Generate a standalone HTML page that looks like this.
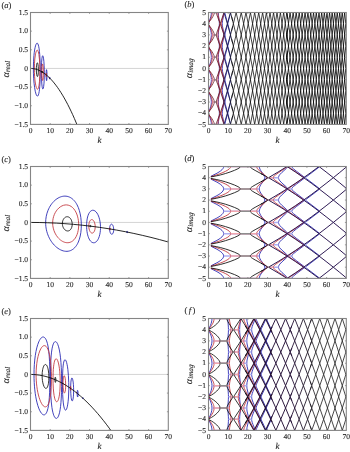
<!DOCTYPE html>
<html><head><meta charset="utf-8"><style>
html,body{margin:0;padding:0;background:#fff}
body{width:350px;height:452px;overflow:hidden}
svg{display:block;will-change:transform}
text{text-rendering:geometricPrecision;stroke:#333;stroke-width:0.12px}
text{font-family:"Liberation Serif",serif}
</style></head><body>
<svg width="350" height="452" viewBox="0 0 350 452">
<rect width="350" height="452" fill="#fff"/>
<clipPath id="cabr"><rect x="30.5" y="12.5" width="137.80" height="111.90"/></clipPath>
<g clip-path="url(#cabr)" fill="none">
<line x1="30.5" y1="68.45" x2="168.3" y2="68.45" stroke="#cfcfcf" stroke-width="0.9"/>
<path d="M33.37 68.66 L33.52 61.77 33.95 55.46 34.26 52.56 34.63 49.97 35.05 47.72 35.51 45.86 35.99 44.47 36.48 43.56 36.73 43.30 36.97 43.17 37.21 43.17 37.45 43.29 37.91 43.93 38.34 45.06 38.75 46.69 39.11 48.76 39.45 51.44 39.74 54.62 40.14 62.10 40.29 70.94 40.15 79.49 39.77 86.36 39.50 89.20 39.18 91.58 38.81 93.49 38.40 94.88 37.96 95.77 37.72 96.01 37.48 96.11 37.11 96.02 36.74 95.63 36.36 94.94 35.98 93.98 35.26 91.27 34.61 87.65 34.08 83.43 33.69 78.77 33.45 73.78 33.37 68.66Z M41.38 71.53 L41.44 66.63 41.61 62.28 41.88 58.90 42.23 56.70 42.43 56.06 42.65 55.78 42.75 55.77 42.87 55.85 43.08 56.28 43.30 57.07 43.50 58.18 43.86 61.28 44.12 65.25 44.27 69.83 44.31 73.41 44.21 79.11 44.00 83.13 43.70 86.27 43.32 88.28 43.11 88.80 42.90 89.00 42.74 88.93 42.60 88.70 42.31 87.73 42.05 86.16 41.82 84.04 41.49 78.34 41.38 71.53Z M46.11 74.78 L46.18 71.73 46.38 69.90 46.51 69.60 46.64 69.76 46.87 71.38 47.01 74.30 46.99 77.37 46.84 79.78 46.72 80.47 46.59 80.71 46.50 80.60 46.41 80.27 46.25 79.00 46.15 77.05 46.11 74.78Z M49.60 77.94 L49.66 77.01 49.71 76.97 49.75 77.26 49.78 78.52 49.70 79.11 49.60 77.94Z" stroke="#2020b0" stroke-width="0.85"/>
<path d="M34.34 68.83 L34.47 63.71 34.81 58.99 35.36 54.93 35.69 53.27 36.06 51.93 36.43 50.96 36.81 50.36 37.01 50.20 37.20 50.13 37.39 50.16 37.58 50.29 37.94 50.82 38.29 51.74 38.61 53.00 38.91 54.61 39.42 59.03 39.75 64.58 39.87 70.73 39.75 76.64 39.44 81.78 39.21 83.93 38.95 85.74 38.64 87.21 38.31 88.28 37.95 88.95 37.75 89.14 37.56 89.22 37.27 89.15 36.98 88.87 36.69 88.37 36.40 87.67 35.83 85.69 35.33 83.01 34.91 79.88 34.60 76.39 34.41 72.67 34.34 68.83Z M41.77 71.75 L41.90 67.30 42.06 65.59 42.25 64.46 42.47 63.97 42.59 63.98 42.70 64.16 42.92 65.04 43.11 66.52 43.35 70.84 43.33 75.49 43.22 77.53 43.05 79.13 42.85 80.15 42.74 80.42 42.63 80.52 42.46 80.36 42.30 79.86 42.03 77.96 41.84 75.19 41.77 71.75Z M46.07 74.75 L46.16 73.27 46.20 73.17 46.25 73.22 46.33 73.72 46.37 75.58 46.31 76.33 46.23 76.58 46.12 76.06 46.07 74.75Z M49.48 77.81 L49.51 77.67 49.50 78.04 49.48 77.81Z" stroke="#c03038" stroke-width="0.85"/>
<path d="M36.33 69.33 L36.38 67.44 36.50 65.74 36.70 64.32 36.95 63.30 37.23 62.83 37.38 62.80 37.52 62.91 37.79 63.53 38.02 64.66 38.21 66.26 38.33 68.21 38.36 70.06 38.32 72.22 38.19 73.98 38.00 75.34 37.75 76.23 37.61 76.47 37.46 76.57 37.25 76.45 37.05 76.04 36.67 74.42 36.42 72.05 36.33 69.33Z M42.07 71.93 L42.13 71.14 42.18 71.11 42.23 71.35 42.26 72.30 42.17 72.89 42.10 72.60 42.07 71.93Z" stroke="#000000" stroke-width="0.8"/>
<path d="M30.50 68.45 L32.27 68.53 33.85 68.74 35.42 69.08 37.19 69.61 38.77 70.23 40.54 71.07 42.31 72.08 44.08 73.24 45.85 74.58 47.43 75.90 49.20 77.54 50.78 79.13 52.55 81.08 54.12 82.95 55.89 85.21 57.47 87.35 59.04 89.62 60.82 92.33 62.59 95.21 64.16 97.90 65.93 101.08 67.71 104.42 69.48 107.93 71.05 111.19 72.63 114.57 74.40 118.53 77.75 126.46 81.09 134.97 84.44 144.06" stroke="#000" stroke-width="0.85"/>
</g>
<clipPath id="cabi"><rect x="208.5" y="12.5" width="137.80" height="111.90"/></clipPath>
<g clip-path="url(#cabi)" fill="none">
<path id="pabb0" d="M208.70 67.40 L210.11 63.67 210.78 61.53 211.23 59.33 211.37 57.26 M218.28 57.26 L218.43 59.99 219.22 65.87 219.39 68.45 M222.30 68.45 L222.37 66.93 222.59 65.26 223.91 58.97 224.11 57.26 M225.02 57.26 L225.10 58.33 225.39 59.76 227.44 67.55 227.61 68.45 M227.78 68.45 L227.99 67.40 230.57 57.65" stroke="#2020b0" stroke-width="0.85"/>
<use href="#pabb0" transform="translate(0 67.140)"/>
<use href="#pabb0" transform="matrix(1 0 0 -1 0 204.040)"/>
<use href="#pabb0" transform="translate(0 44.760)"/>
<use href="#pabb0" transform="matrix(1 0 0 -1 0 181.660)"/>
<use href="#pabb0" transform="translate(0 22.380)"/>
<use href="#pabb0" transform="matrix(1 0 0 -1 0 159.280)"/>
<use href="#pabb0" transform="matrix(1 0 0 -1 0 136.900)"/>
<use href="#pabb0" transform="translate(0 -22.380)"/>
<use href="#pabb0" transform="matrix(1 0 0 -1 0 114.520)"/>
<use href="#pabb0" transform="translate(0 -44.760)"/>
<use href="#pabb0" transform="matrix(1 0 0 -1 0 92.140)"/>
<path d="M211.37 124.40H218.28M211.37 102.02H218.28M211.37 79.64H218.28M211.37 57.26H218.28M211.37 34.88H218.28M211.37 12.50H218.28M219.39 113.21H222.30M219.39 90.83H222.30M219.39 68.45H222.30M219.39 46.07H222.30M219.39 23.69H222.30M224.11 124.40H225.02M224.11 102.02H225.02M224.11 79.64H225.02M224.11 57.26H225.02M224.11 34.88H225.02M224.11 12.50H225.02" stroke="#aeaef2" stroke-opacity="1" stroke-width="1.5"/>
<path id="pabr0" d="M208.70 67.45 L210.69 63.50 211.54 61.46 212.15 59.30 212.35 57.26 M217.86 57.26 L217.93 58.70 218.13 60.21 219.53 66.35 219.72 67.47 219.77 68.45 M221.37 68.45 L221.47 67.20 221.78 65.65 223.86 58.35 224.07 57.26" stroke="#c03038" stroke-width="0.85"/>
<use href="#pabr0" transform="translate(0 67.140)"/>
<use href="#pabr0" transform="matrix(1 0 0 -1 0 204.040)"/>
<use href="#pabr0" transform="translate(0 44.760)"/>
<use href="#pabr0" transform="matrix(1 0 0 -1 0 181.660)"/>
<use href="#pabr0" transform="translate(0 22.380)"/>
<use href="#pabr0" transform="matrix(1 0 0 -1 0 159.280)"/>
<use href="#pabr0" transform="matrix(1 0 0 -1 0 136.900)"/>
<use href="#pabr0" transform="translate(0 -22.380)"/>
<use href="#pabr0" transform="matrix(1 0 0 -1 0 114.520)"/>
<use href="#pabr0" transform="translate(0 -44.760)"/>
<use href="#pabr0" transform="matrix(1 0 0 -1 0 92.140)"/>
<path d="M212.35 124.40H217.86M212.35 102.02H217.86M212.35 79.64H217.86M212.35 57.26H217.86M212.35 34.88H217.86M212.35 12.50H217.86M219.77 113.21H221.37M219.77 90.83H221.37M219.77 68.45H221.37M219.77 46.07H221.37M219.77 23.69H221.37" stroke="#f2a6ac" stroke-opacity="1" stroke-width="1.5"/>
<linearGradient id="gab" gradientUnits="userSpaceOnUse" x1="208.5" y1="0" x2="346.3" y2="0"><stop offset="0.0000" stop-color="#6a1824"/><stop offset="0.0971" stop-color="#5a1424"/><stop offset="0.1171" stop-color="#1c1650"/><stop offset="0.1500" stop-color="#181838"/><stop offset="0.1786" stop-color="#000"/><stop offset="1.0000" stop-color="#000"/></linearGradient>
<path id="pabk0" d="M208.70 67.49 L209.27 66.50 211.63 63.40 212.90 61.32 213.54 60.06 214.00 58.97 214.25 58.08 214.34 57.26 M216.36 57.26 L216.48 58.30 216.84 59.59 219.65 67.06 220.07 68.45 M220.26 68.45 L220.41 67.83 223.97 57.26 M223.98 57.26 L227.37 68.45 230.47 57.27 232.72 65.85" stroke="url(#gab)" stroke-width="0.80"/>
<use href="#pabk0" transform="translate(0 67.140)"/>
<use href="#pabk0" transform="matrix(1 0 0 -1 0 204.040)"/>
<use href="#pabk0" transform="translate(0 44.760)"/>
<use href="#pabk0" transform="matrix(1 0 0 -1 0 181.660)"/>
<use href="#pabk0" transform="translate(0 22.380)"/>
<use href="#pabk0" transform="matrix(1 0 0 -1 0 159.280)"/>
<use href="#pabk0" transform="matrix(1 0 0 -1 0 136.900)"/>
<use href="#pabk0" transform="translate(0 -22.380)"/>
<use href="#pabk0" transform="matrix(1 0 0 -1 0 114.520)"/>
<use href="#pabk0" transform="translate(0 -44.760)"/>
<use href="#pabk0" transform="matrix(1 0 0 -1 0 92.140)"/>
<path id="pabk1" d="M231.53 61.24 L233.38 68.44 236.11 57.27 238.73 68.44 241.23 57.26 243.64 68.44 245.97 57.26 248.23 68.44 250.43 57.26 252.57 68.44 254.66 57.27 256.71 68.44 258.71 57.27 260.68 68.45 262.61 57.27 264.51 68.44 266.37 57.27 268.21 68.45 270.01 57.27 271.80 68.44 273.56 57.27 275.29 68.45 277.01 57.27 278.70 68.43 280.38 57.27 282.03 68.45 283.67 57.27 285.29 68.44 286.89 57.28 287.84 63.92" stroke="url(#gab)" stroke-width="0.74"/>
<use href="#pabk1" transform="translate(0 67.140)"/>
<use href="#pabk1" transform="matrix(1 0 0 -1 0 204.040)"/>
<use href="#pabk1" transform="translate(0 44.760)"/>
<use href="#pabk1" transform="matrix(1 0 0 -1 0 181.660)"/>
<use href="#pabk1" transform="translate(0 22.380)"/>
<use href="#pabk1" transform="matrix(1 0 0 -1 0 159.280)"/>
<use href="#pabk1" transform="matrix(1 0 0 -1 0 136.900)"/>
<use href="#pabk1" transform="translate(0 -22.380)"/>
<use href="#pabk1" transform="matrix(1 0 0 -1 0 114.520)"/>
<use href="#pabk1" transform="translate(0 -44.760)"/>
<use href="#pabk1" transform="matrix(1 0 0 -1 0 92.140)"/>
<path id="pabk2" d="M286.65 58.97 L286.89 57.28 288.48 68.45 290.05 57.27 291.61 68.44 293.15 57.27 294.68 68.44 296.20 57.26 297.71 68.44 299.20 57.26 300.68 68.44 302.14 57.27 303.61 68.44 305.05 57.27 306.49 68.44 307.92 57.27 309.34 68.43 310.74 57.28 312.14 68.44 313.53 57.26 314.91 68.43 316.28 57.27 317.64 68.44 319.00 57.27 320.34 68.43 321.69 57.27 323.02 68.44 324.34 57.28 325.66 68.44 326.97 57.28 328.27 68.43 329.57 57.27 330.86 68.45 332.15 57.27 333.42 68.43 334.70 57.27 335.96 68.44 337.22 57.28 338.47 68.44 339.72 57.27 340.96 68.44 342.20 57.28 343.43 68.43 344.65 57.29 345.87 68.42 346.30 64.54" stroke="url(#gab)" stroke-width="0.80"/>
<use href="#pabk2" transform="translate(0 67.140)"/>
<use href="#pabk2" transform="matrix(1 0 0 -1 0 204.040)"/>
<use href="#pabk2" transform="translate(0 44.760)"/>
<use href="#pabk2" transform="matrix(1 0 0 -1 0 181.660)"/>
<use href="#pabk2" transform="translate(0 22.380)"/>
<use href="#pabk2" transform="matrix(1 0 0 -1 0 159.280)"/>
<use href="#pabk2" transform="matrix(1 0 0 -1 0 136.900)"/>
<use href="#pabk2" transform="translate(0 -22.380)"/>
<use href="#pabk2" transform="matrix(1 0 0 -1 0 114.520)"/>
<use href="#pabk2" transform="translate(0 -44.760)"/>
<use href="#pabk2" transform="matrix(1 0 0 -1 0 92.140)"/>
<path d="M214.34 124.40H216.36M214.34 102.02H216.36M214.34 79.64H216.36M214.34 57.26H216.36M214.34 34.88H216.36M214.34 12.50H216.36" stroke="#8e8e8e" stroke-opacity="1" stroke-width="1.5"/>
</g>
<clipPath id="ccdr"><rect x="30.5" y="166.5" width="137.80" height="111.90"/></clipPath>
<g clip-path="url(#ccdr)" fill="none">
<line x1="30.5" y1="222.45" x2="168.3" y2="222.45" stroke="#cfcfcf" stroke-width="0.9"/>
<path d="M45.64 222.69 L45.80 219.46 46.26 216.28 47.03 213.19 48.07 210.24 48.71 208.80 49.41 207.42 50.17 206.09 50.99 204.83 51.87 203.62 52.81 202.48 53.79 201.43 54.81 200.45 55.87 199.56 56.96 198.77 58.07 198.07 59.21 197.48 60.35 196.99 61.51 196.60 62.66 196.33 63.80 196.17 64.94 196.12 66.06 196.18 67.17 196.35 68.25 196.63 69.31 197.02 70.34 197.51 71.34 198.12 72.30 198.82 73.20 199.61 74.06 200.48 74.89 201.45 75.67 202.51 76.41 203.66 77.10 204.88 78.33 207.57 79.37 210.57 80.20 213.84 80.80 217.34 81.18 221.03 81.32 225.11 81.21 228.79 80.84 232.53 80.23 236.01 79.39 239.18 78.34 242.03 77.73 243.32 77.07 244.53 76.36 245.65 75.60 246.67 74.70 247.70 73.74 248.61 72.74 249.39 71.67 250.04 70.57 250.57 69.42 250.95 68.23 251.21 67.01 251.33 65.76 251.31 64.49 251.15 63.20 250.86 61.90 250.43 60.60 249.87 59.31 249.18 58.04 248.37 56.79 247.44 55.57 246.39 54.39 245.24 53.27 244.00 52.19 242.65 51.19 241.24 50.26 239.75 49.40 238.20 48.63 236.60 47.94 234.95 47.34 233.27 46.82 231.56 46.40 229.81 46.07 228.05 45.84 226.27 45.69 224.47 45.64 222.69Z M86.60 225.69 L86.67 223.30 86.86 221.08 87.17 218.95 87.59 216.99 88.13 215.25 88.76 213.73 89.49 212.46 90.30 211.47 91.19 210.75 92.14 210.34 92.62 210.25 93.12 210.25 94.11 210.48 95.09 211.02 96.04 211.86 96.94 213.00 97.78 214.39 98.50 215.98 99.14 217.78 99.67 219.75 100.07 221.83 100.35 224.05 100.49 226.28 100.50 228.55 100.37 230.64 100.12 232.73 99.73 234.72 99.23 236.56 98.61 238.20 97.89 239.63 97.09 240.82 96.22 241.74 95.29 242.38 94.49 242.69 93.67 242.78 92.85 242.67 92.05 242.34 91.27 241.81 90.53 241.08 89.84 240.17 89.19 239.07 88.62 237.83 88.11 236.43 87.66 234.90 87.29 233.23 86.99 231.46 86.78 229.58 86.65 227.72 86.60 225.69Z M109.61 228.89 L109.69 227.52 109.92 226.26 110.28 225.26 110.74 224.55 111.00 224.33 111.28 224.21 111.57 224.18 111.85 224.25 112.40 224.68 112.90 225.46 113.30 226.53 113.57 227.80 113.69 229.17 113.66 230.57 113.47 231.86 113.14 232.94 112.69 233.74 112.17 234.19 111.70 234.28 111.24 234.11 110.80 233.68 110.40 233.03 110.07 232.18 109.82 231.17 109.66 230.05 109.61 228.89Z M126.74 231.99 L126.80 231.53 126.95 231.22 127.14 231.17 127.32 231.39 127.44 231.80 127.46 232.30 127.37 232.72 127.20 232.95 127.04 232.93 126.89 232.73 126.74 231.99Z" stroke="#2020b0" stroke-width="0.85"/>
<path d="M52.66 222.96 L52.76 220.78 53.08 218.64 53.60 216.56 54.32 214.56 55.23 212.66 56.32 210.90 57.56 209.32 58.93 207.94 60.40 206.80 61.94 205.91 63.52 205.30 65.12 204.96 66.71 204.92 68.27 205.16 69.77 205.68 71.21 206.48 72.54 207.53 73.77 208.82 74.90 210.36 75.90 212.10 76.77 214.04 77.48 216.14 78.04 218.40 78.43 220.73 78.65 223.16 78.68 225.61 78.53 228.00 78.20 230.34 77.70 232.55 77.04 234.59 76.22 236.45 75.26 238.10 74.62 238.98 73.93 239.78 73.19 240.48 72.43 241.10 71.62 241.61 70.78 242.03 69.92 242.35 69.02 242.58 68.10 242.69 67.16 242.71 66.21 242.63 65.25 242.44 64.29 242.15 63.33 241.76 62.37 241.28 61.43 240.70 60.49 240.02 59.58 239.25 58.70 238.39 57.87 237.47 56.34 235.41 55.04 233.13 54.01 230.71 53.27 228.18 52.81 225.60 52.66 222.96Z M88.78 225.95 L88.90 224.13 89.25 222.49 89.79 221.14 90.13 220.60 90.51 220.17 90.91 219.86 91.33 219.66 91.76 219.59 92.20 219.65 92.64 219.83 93.06 220.13 93.46 220.55 93.84 221.07 94.48 222.40 94.94 224.03 95.18 225.85 95.18 227.67 94.95 229.41 94.49 230.90 94.20 231.53 93.86 232.07 93.48 232.50 93.08 232.82 92.71 233.00 92.33 233.09 91.94 233.08 91.56 232.97 91.18 232.77 90.82 232.48 90.14 231.64 89.57 230.49 89.14 229.11 88.88 227.60 88.78 225.95Z M109.35 228.85 L109.42 228.28 109.63 227.88 109.76 227.80 109.90 227.80 110.16 228.06 110.34 228.57 110.37 229.19 110.26 229.73 110.02 230.05 109.78 230.05 109.56 229.81 109.40 229.37 109.35 228.85Z" stroke="#c03038" stroke-width="0.85"/>
<path d="M62.36 223.50 L62.51 221.83 62.95 220.28 63.27 219.57 63.65 218.92 64.08 218.34 64.56 217.84 65.08 217.42 65.64 217.10 66.22 216.88 66.81 216.76 67.41 216.74 68.00 216.83 68.58 217.02 69.13 217.31 69.66 217.70 70.15 218.17 70.60 218.73 71.01 219.36 71.66 220.83 72.07 222.47 72.22 224.24 72.08 225.93 71.67 227.54 71.37 228.26 71.02 228.90 70.50 229.61 69.92 230.17 69.27 230.60 68.58 230.87 67.85 230.98 67.11 230.93 66.37 230.71 65.64 230.35 64.95 229.83 64.32 229.17 63.74 228.40 63.26 227.53 62.87 226.58 62.59 225.58 62.43 224.58 62.36 223.50Z M89.92 226.09 L89.99 225.66 90.15 225.38 90.38 225.30 90.61 225.46 90.76 225.78 90.82 226.20 90.75 226.64 90.56 226.93 90.34 226.98 90.13 226.82 89.98 226.49 89.92 226.09Z" stroke="#000000" stroke-width="0.8"/>
<path d="M30.50 222.45 L39.16 222.53 47.63 222.75 56.29 223.13 64.95 223.67 73.61 224.36 82.08 225.19 90.74 226.19 99.40 227.34 108.06 228.65 116.53 230.07 125.19 231.68 133.85 233.45 142.31 235.33 150.98 237.40 159.64 239.63 168.30 242.01" stroke="#000" stroke-width="0.85"/>
</g>
<clipPath id="ccdi"><rect x="208.5" y="166.5" width="137.80" height="111.90"/></clipPath>
<g clip-path="url(#ccdi)" fill="none">
<path id="pcdb0" d="M210.86 221.08 L216.92 218.02 219.00 216.79 220.66 215.63 221.97 214.49 222.91 213.40 223.46 212.32 223.65 211.26 M259.32 211.26 L259.49 212.61 260.00 214.02 260.91 215.61 263.09 218.69 263.86 219.93 264.42 221.23 264.60 222.45 M278.51 222.45 L278.60 221.69 278.86 220.92 279.31 220.10 279.95 219.22 281.86 217.22 286.67 212.89 287.39 211.99 287.61 211.26 M291.70 211.26 L291.80 211.74 292.12 212.27 293.55 213.69 296.40 215.95 303.95 221.63 304.58 222.17 304.74 222.45 M305.47 222.45 L305.65 222.14 306.39 221.53 319.08 211.86" stroke="#2020b0" stroke-width="0.85"/>
<use href="#pcdb0" transform="translate(0 67.140)"/>
<use href="#pcdb0" transform="matrix(1 0 0 -1 0 512.040)"/>
<use href="#pcdb0" transform="translate(0 44.760)"/>
<use href="#pcdb0" transform="matrix(1 0 0 -1 0 489.660)"/>
<use href="#pcdb0" transform="translate(0 22.380)"/>
<use href="#pcdb0" transform="matrix(1 0 0 -1 0 467.280)"/>
<use href="#pcdb0" transform="matrix(1 0 0 -1 0 444.900)"/>
<use href="#pcdb0" transform="translate(0 -22.380)"/>
<use href="#pcdb0" transform="matrix(1 0 0 -1 0 422.520)"/>
<use href="#pcdb0" transform="translate(0 -44.760)"/>
<use href="#pcdb0" transform="matrix(1 0 0 -1 0 400.140)"/>
<path d="M223.65 278.40H259.32M223.65 256.02H259.32M223.65 233.64H259.32M223.65 211.26H259.32M223.65 188.88H259.32M223.65 166.50H259.32M264.60 267.21H278.51M264.60 244.83H278.51M264.60 222.45H278.51M264.60 200.07H278.51M264.60 177.69H278.51M287.61 278.40H291.70M287.61 256.02H291.70M287.61 233.64H291.70M287.61 211.26H291.70M287.61 188.88H291.70M287.61 166.50H291.70M304.74 267.21H305.47M304.74 244.83H305.47M304.74 222.45H305.47M304.74 200.07H305.47M304.74 177.69H305.47" stroke="#aeaef2" stroke-opacity="1" stroke-width="1.5"/>
<path id="pcdr0" d="M210.86 221.46 L215.85 219.89 219.57 218.60 222.94 217.26 225.73 215.95 227.92 214.69 229.45 213.50 229.98 212.93 230.36 212.37 230.58 211.82 230.66 211.26 M256.69 211.26 L256.78 212.00 257.06 212.75 257.52 213.52 258.19 214.34 260.16 216.18 264.35 219.47 265.60 220.54 266.50 221.57 266.71 222.02 266.78 222.45 M273.21 222.45 L273.33 221.90 273.69 221.31 274.33 220.63 275.28 219.82 278.23 217.68 286.36 212.20 287.14 211.60 287.35 211.26 M288.37 211.26 L288.59 211.61 289.41 212.24 303.74 222.20" stroke="#c03038" stroke-width="0.85"/>
<use href="#pcdr0" transform="translate(0 67.140)"/>
<use href="#pcdr0" transform="matrix(1 0 0 -1 0 512.040)"/>
<use href="#pcdr0" transform="translate(0 44.760)"/>
<use href="#pcdr0" transform="matrix(1 0 0 -1 0 489.660)"/>
<use href="#pcdr0" transform="translate(0 22.380)"/>
<use href="#pcdr0" transform="matrix(1 0 0 -1 0 467.280)"/>
<use href="#pcdr0" transform="matrix(1 0 0 -1 0 444.900)"/>
<use href="#pcdr0" transform="translate(0 -22.380)"/>
<use href="#pcdr0" transform="matrix(1 0 0 -1 0 422.520)"/>
<use href="#pcdr0" transform="translate(0 -44.760)"/>
<use href="#pcdr0" transform="matrix(1 0 0 -1 0 400.140)"/>
<path d="M230.66 278.40H256.69M230.66 256.02H256.69M230.66 233.64H256.69M230.66 211.26H256.69M230.66 188.88H256.69M230.66 166.50H256.69M266.78 267.21H273.21M266.78 244.83H273.21M266.78 222.45H273.21M266.78 200.07H273.21M266.78 177.69H273.21M287.35 278.40H288.37M287.35 256.02H288.37M287.35 233.64H288.37M287.35 211.26H288.37M287.35 188.88H288.37M287.35 166.50H288.37" stroke="#f2a6ac" stroke-opacity="1" stroke-width="1.5"/>
<linearGradient id="gcd" gradientUnits="userSpaceOnUse" x1="208.5" y1="0" x2="346.3" y2="0"><stop offset="0.0000" stop-color="#000"/><stop offset="0.3857" stop-color="#000"/><stop offset="0.4714" stop-color="#24104c"/><stop offset="1.0000" stop-color="#24104c"/></linearGradient>
<path id="pcdk0" d="M210.86 221.70 L216.22 220.68 220.68 219.64 225.40 218.32 230.08 216.78 234.59 215.05 237.96 213.49 239.04 212.85 239.79 212.28 240.22 211.76 240.37 211.26 M250.21 211.26 L250.34 211.75 250.72 212.28 251.37 212.86 252.34 213.55 255.14 215.19 262.25 219.06" stroke="url(#gcd)" stroke-width="0.82"/>
<use href="#pcdk0" transform="translate(0 67.140)"/>
<use href="#pcdk0" transform="matrix(1 0 0 -1 0 512.040)"/>
<use href="#pcdk0" transform="translate(0 44.760)"/>
<use href="#pcdk0" transform="matrix(1 0 0 -1 0 489.660)"/>
<use href="#pcdk0" transform="translate(0 22.380)"/>
<use href="#pcdk0" transform="matrix(1 0 0 -1 0 467.280)"/>
<use href="#pcdk0" transform="matrix(1 0 0 -1 0 444.900)"/>
<use href="#pcdk0" transform="translate(0 -22.380)"/>
<use href="#pcdk0" transform="matrix(1 0 0 -1 0 422.520)"/>
<use href="#pcdk0" transform="translate(0 -44.760)"/>
<use href="#pcdk0" transform="matrix(1 0 0 -1 0 400.140)"/>
<path id="pcdk1" d="M261.06 218.42 L266.88 221.65 267.70 222.17 267.93 222.45 M268.82 222.45 L268.97 222.22 269.53 221.84 278.95 216.26 286.95 211.26 M286.98 211.26 L295.43 216.81 303.64 222.45 M303.64 222.45 L311.21 217.03 318.99 211.26 326.09 216.71 333.34 222.45 339.78 217.21 346.30 211.78" stroke="url(#gcd)" stroke-width="0.96"/>
<use href="#pcdk1" transform="translate(0 67.140)"/>
<use href="#pcdk1" transform="matrix(1 0 0 -1 0 512.040)"/>
<use href="#pcdk1" transform="translate(0 44.760)"/>
<use href="#pcdk1" transform="matrix(1 0 0 -1 0 489.660)"/>
<use href="#pcdk1" transform="translate(0 22.380)"/>
<use href="#pcdk1" transform="matrix(1 0 0 -1 0 467.280)"/>
<use href="#pcdk1" transform="matrix(1 0 0 -1 0 444.900)"/>
<use href="#pcdk1" transform="translate(0 -22.380)"/>
<use href="#pcdk1" transform="matrix(1 0 0 -1 0 422.520)"/>
<use href="#pcdk1" transform="translate(0 -44.760)"/>
<use href="#pcdk1" transform="matrix(1 0 0 -1 0 400.140)"/>
<path d="M240.37 278.40H250.21M240.37 256.02H250.21M240.37 233.64H250.21M240.37 211.26H250.21M240.37 188.88H250.21M240.37 166.50H250.21M267.93 267.21H268.82M267.93 244.83H268.82M267.93 222.45H268.82M267.93 200.07H268.82M267.93 177.69H268.82" stroke="#8e8e8e" stroke-opacity="1" stroke-width="1.5"/>
</g>
<clipPath id="cefr"><rect x="30.5" y="318.5" width="137.80" height="111.90"/></clipPath>
<g clip-path="url(#cefr)" fill="none">
<line x1="30.5" y1="374.45" x2="168.3" y2="374.45" stroke="#cfcfcf" stroke-width="0.9"/>
<path d="M34.00 374.56 L34.09 369.51 34.33 364.70 34.72 360.08 35.27 355.68 35.96 351.60 36.77 347.90 37.71 344.63 38.75 341.86 39.32 340.66 39.90 339.61 40.50 338.73 41.10 338.03 41.70 337.50 42.30 337.15 42.90 336.99 43.49 337.01 44.06 337.22 44.61 337.60 45.15 338.17 45.66 338.91 46.15 339.83 46.61 340.90 47.44 343.56 48.18 347.04 48.77 351.20 49.23 356.07 49.57 361.83 49.79 369.23 49.87 377.70 49.80 385.86 49.59 392.81 49.31 397.78 48.95 402.00 48.47 405.63 47.88 408.65 47.17 411.12 46.78 412.13 46.35 412.98 45.90 413.67 45.43 414.22 44.93 414.60 44.41 414.82 43.96 414.87 43.49 414.81 43.02 414.64 42.54 414.34 41.57 413.42 40.59 412.06 39.64 410.30 38.73 408.15 37.87 405.67 37.08 402.89 36.38 399.94 35.77 396.76 35.24 393.40 34.80 389.87 34.46 386.20 34.21 382.38 34.06 378.63 34.00 374.56Z M50.46 377.90 L50.51 371.14 50.64 365.52 50.85 360.44 51.15 355.96 51.54 352.11 52.02 348.85 52.60 346.16 53.26 344.07 53.67 343.17 54.09 342.47 54.53 341.97 54.99 341.69 55.46 341.61 55.92 341.75 56.40 342.10 56.86 342.65 57.32 343.41 57.76 344.36 58.60 346.81 59.35 349.94 60.01 353.68 60.53 357.78 60.95 362.42 61.27 367.58 61.49 373.23 61.61 379.92 61.60 386.31 61.49 392.47 61.25 398.10 60.95 402.55 60.57 406.46 60.09 409.84 59.52 412.73 58.86 415.07 58.12 416.83 57.73 417.47 57.32 417.95 56.91 418.27 56.49 418.41 56.16 418.41 55.83 418.31 55.17 417.81 54.53 416.93 53.92 415.69 53.35 414.10 52.82 412.19 52.35 409.98 51.93 407.49 51.29 401.97 50.84 395.34 50.56 387.39 50.46 377.90Z M62.45 383.29 L62.57 375.16 62.90 368.56 63.13 365.97 63.42 363.77 63.76 362.04 64.15 360.78 64.60 359.98 64.84 359.79 65.09 359.75 65.34 359.86 65.59 360.11 66.11 361.05 66.60 362.51 67.07 364.47 67.50 366.86 67.88 369.65 68.42 375.69 68.73 382.46 68.77 389.51 68.56 396.04 68.36 399.02 68.09 401.73 67.78 404.13 67.42 406.15 67.01 407.81 66.57 409.05 66.11 409.82 65.87 410.03 65.63 410.12 65.29 410.04 64.95 409.71 64.63 409.13 64.32 408.32 63.76 406.03 63.30 402.94 62.94 399.14 62.68 394.55 62.51 389.14 62.45 383.29Z M70.67 388.43 L70.73 385.04 70.90 382.14 71.18 379.90 71.53 378.47 71.73 378.09 71.94 377.96 72.15 378.07 72.37 378.42 72.79 379.82 73.15 382.03 73.42 384.74 73.58 387.81 73.63 390.57 73.55 394.09 73.35 396.83 73.05 398.99 72.67 400.39 72.47 400.76 72.25 400.90 72.10 400.86 71.94 400.70 71.65 400.03 71.37 398.89 71.14 397.37 70.80 393.36 70.67 388.43Z M77.14 393.29 L77.21 391.57 77.41 390.48 77.53 390.32 77.67 390.42 77.91 391.40 78.05 393.10 78.05 394.97 77.91 396.44 77.79 396.86 77.67 397.02 77.57 396.96 77.48 396.77 77.30 395.95 77.18 394.72 77.14 393.29Z M82.83 398.17 L82.88 397.62 82.94 397.61 82.99 397.82 83.02 398.48 82.94 398.93 82.86 398.71 82.83 398.17Z" stroke="#2020b0" stroke-width="0.85"/>
<path d="M36.09 374.72 L36.17 370.82 36.41 367.03 36.80 363.35 37.34 359.83 38.02 356.56 38.83 353.59 39.74 351.02 40.73 348.89 41.78 347.27 42.32 346.65 42.86 346.18 43.40 345.85 43.95 345.66 44.48 345.62 45.01 345.72 45.53 345.96 46.04 346.35 46.53 346.87 47.01 347.54 47.90 349.27 48.71 351.52 49.47 354.44 50.12 357.90 50.64 361.85 51.03 366.25 51.30 371.27 51.43 376.59 51.40 381.95 51.22 386.88 50.94 391.12 50.54 394.87 50.03 398.15 49.40 400.95 48.67 403.24 48.27 404.18 47.84 404.98 47.39 405.65 46.91 406.17 46.42 406.55 45.91 406.78 45.50 406.86 45.07 406.84 44.64 406.73 44.20 406.53 43.31 405.85 42.42 404.81 41.54 403.42 40.68 401.72 39.87 399.71 39.11 397.46 38.43 395.03 37.83 392.44 37.31 389.71 36.88 386.84 36.54 383.90 36.29 380.87 36.14 377.83 36.09 374.72Z M53.01 378.84 L53.15 372.32 53.32 369.43 53.55 366.86 53.83 364.59 54.18 362.65 54.57 361.09 55.01 359.91 55.51 359.13 55.77 358.91 56.04 358.81 56.31 358.82 56.59 358.95 57.13 359.56 57.67 360.61 58.18 362.08 58.65 363.94 59.07 366.15 59.43 368.57 59.72 371.22 60.11 377.03 60.21 383.18 60.01 389.03 59.80 391.68 59.53 394.13 59.19 396.28 58.80 398.11 58.37 399.60 57.88 400.72 57.37 401.45 57.11 401.65 56.84 401.75 56.46 401.70 56.07 401.43 55.69 400.93 55.33 400.22 54.98 399.31 54.66 398.20 54.09 395.45 53.63 392.06 53.30 388.12 53.09 383.75 53.01 378.84Z M63.01 383.60 L63.07 381.10 63.22 378.98 63.47 377.30 63.79 376.20 63.97 375.90 64.16 375.78 64.35 375.84 64.54 376.07 64.91 377.04 65.24 378.63 65.48 380.67 65.63 383.03 65.68 385.17 65.61 387.77 65.44 389.84 65.18 391.46 64.85 392.52 64.66 392.81 64.47 392.93 64.33 392.90 64.19 392.79 63.92 392.29 63.67 391.43 63.44 390.28 63.12 387.24 63.01 383.60Z M70.24 388.13 L70.29 387.07 70.43 386.43 70.52 386.34 70.60 386.40 70.77 386.99 70.87 388.04 70.86 389.19 70.76 390.03 70.60 390.36 70.47 390.21 70.35 389.72 70.24 388.13Z M76.44 392.73 L76.47 392.47 76.52 392.54 76.50 393.08 76.44 392.73Z" stroke="#c03038" stroke-width="0.85"/>
<path d="M42.11 375.62 L42.26 372.44 42.66 369.56 42.96 368.28 43.30 367.15 43.69 366.18 44.12 365.42 44.57 364.88 45.03 364.56 45.50 364.47 45.97 364.62 46.42 364.99 46.85 365.59 47.26 366.39 47.63 367.40 47.98 368.63 48.28 370.05 48.70 373.28 48.88 376.81 48.79 380.33 48.44 383.44 48.18 384.77 47.87 385.92 47.51 386.86 47.11 387.60 46.69 388.11 46.23 388.38 45.86 388.43 45.50 388.32 45.12 388.08 44.75 387.70 44.03 386.52 43.39 384.87 42.85 382.86 42.45 380.57 42.20 378.15 42.11 375.62Z M54.81 379.57 L54.90 378.19 55.13 377.37 55.27 377.22 55.43 377.29 55.57 377.56 55.70 378.00 55.87 379.32 55.87 380.73 55.71 381.88 55.57 382.24 55.43 382.38 55.31 382.35 55.20 382.20 55.00 381.60 54.86 380.67 54.81 379.57Z M62.81 383.49 L62.84 383.28 62.89 383.34 62.87 383.78 62.81 383.49Z" stroke="#000000" stroke-width="0.8"/>
<path d="M30.50 374.45 L33.45 374.53 36.41 374.75 39.16 375.10 42.11 375.62 45.07 376.29 48.02 377.11 50.97 378.08 53.93 379.20 56.88 380.48 59.63 381.80 62.59 383.37 65.54 385.09 68.49 386.95 71.45 388.97 74.40 391.14 77.35 393.47 80.30 395.94 83.26 398.56 86.01 401.15 88.97 404.06 91.92 407.13 94.87 410.35 97.63 413.49 100.58 417.00 103.53 420.66 106.29 424.21 109.24 428.16 112.20 432.27 115.15 436.52 118.10 440.93 121.05 445.48 124.01 450.19" stroke="#000" stroke-width="0.85"/>
</g>
<clipPath id="cefi"><rect x="208.5" y="318.5" width="137.80" height="111.90"/></clipPath>
<g clip-path="url(#cefi)" fill="none">
<path id="pefb0" d="M208.50 374.45 L210.33 370.42 211.23 367.99 211.81 365.57 212.00 363.26 M227.87 363.26 L227.96 366.17 228.39 371.97 228.46 374.45 M239.62 374.45 L239.72 371.81 240.33 365.98 240.45 363.26 M246.79 363.26 L246.86 364.77 247.06 366.32 248.43 372.27 248.61 373.43 248.67 374.45 M251.63 374.45 L251.76 373.00 252.19 371.31 252.97 369.14 254.83 364.61 255.07 363.86 255.15 363.26 M256.07 363.26 L256.21 364.10 256.71 365.39 260.58 373.75 260.83 374.45 M261.02 374.45 L261.34 373.60 266.17 363.26 M266.20 363.26 L270.85 373.42" stroke="#2020b0" stroke-width="0.85"/>
<use href="#pefb0" transform="translate(0 67.140)"/>
<use href="#pefb0" transform="matrix(1 0 0 -1 0 816.040)"/>
<use href="#pefb0" transform="translate(0 44.760)"/>
<use href="#pefb0" transform="matrix(1 0 0 -1 0 793.660)"/>
<use href="#pefb0" transform="translate(0 22.380)"/>
<use href="#pefb0" transform="matrix(1 0 0 -1 0 771.280)"/>
<use href="#pefb0" transform="matrix(1 0 0 -1 0 748.900)"/>
<use href="#pefb0" transform="translate(0 -22.380)"/>
<use href="#pefb0" transform="matrix(1 0 0 -1 0 726.520)"/>
<use href="#pefb0" transform="translate(0 -44.760)"/>
<use href="#pefb0" transform="matrix(1 0 0 -1 0 704.140)"/>
<path d="M212.00 430.40H227.87M212.00 408.02H227.87M212.00 385.64H227.87M212.00 363.26H227.87M212.00 340.88H227.87M212.00 318.50H227.87M228.46 419.21H239.62M228.46 396.83H239.62M228.46 374.45H239.62M228.46 352.07H239.62M228.46 329.69H239.62M240.45 430.40H246.79M240.45 408.02H246.79M240.45 385.64H246.79M240.45 363.26H246.79M240.45 340.88H246.79M240.45 318.50H246.79M248.67 419.21H251.63M248.67 396.83H251.63M248.67 374.45H251.63M248.67 352.07H251.63M248.67 329.69H251.63M255.15 430.40H256.07M255.15 408.02H256.07M255.15 385.64H256.07M255.15 363.26H256.07M255.15 340.88H256.07M255.15 318.50H256.07" stroke="#aeaef2" stroke-opacity="1" stroke-width="1.5"/>
<path id="pefr0" d="M208.50 374.45 L208.70 374.07 211.41 370.44 212.85 368.02 213.40 366.78 213.79 365.58 214.02 364.42 214.10 363.26 M229.43 363.26 L229.63 365.89 230.78 371.75 230.96 373.15 231.02 374.45 M238.21 374.45 L238.32 372.92 238.63 371.30 239.18 369.47 240.67 365.27 240.93 364.19 241.01 363.26 M243.67 363.26 L243.85 364.58 244.40 366.19 245.44 368.47 247.89 373.34 248.16 373.99 248.24 374.45 M248.88 374.45 L249.00 373.88 249.45 372.88 254.44 363.26 M254.54 363.26 L259.94 373.93" stroke="#c03038" stroke-width="0.85"/>
<use href="#pefr0" transform="translate(0 67.140)"/>
<use href="#pefr0" transform="matrix(1 0 0 -1 0 816.040)"/>
<use href="#pefr0" transform="translate(0 44.760)"/>
<use href="#pefr0" transform="matrix(1 0 0 -1 0 793.660)"/>
<use href="#pefr0" transform="translate(0 22.380)"/>
<use href="#pefr0" transform="matrix(1 0 0 -1 0 771.280)"/>
<use href="#pefr0" transform="matrix(1 0 0 -1 0 748.900)"/>
<use href="#pefr0" transform="translate(0 -22.380)"/>
<use href="#pefr0" transform="matrix(1 0 0 -1 0 726.520)"/>
<use href="#pefr0" transform="translate(0 -44.760)"/>
<use href="#pefr0" transform="matrix(1 0 0 -1 0 704.140)"/>
<path d="M214.10 430.40H229.43M214.10 408.02H229.43M214.10 385.64H229.43M214.10 363.26H229.43M214.10 340.88H229.43M214.10 318.50H229.43M231.02 419.21H238.21M231.02 396.83H238.21M231.02 374.45H238.21M231.02 352.07H238.21M231.02 329.69H238.21M241.01 430.40H243.67M241.01 408.02H243.67M241.01 385.64H243.67M241.01 363.26H243.67M241.01 340.88H243.67M241.01 318.50H243.67M248.24 419.21H248.88M248.24 396.83H248.88M248.24 374.45H248.88M248.24 352.07H248.88M248.24 329.69H248.88" stroke="#f2a6ac" stroke-opacity="1" stroke-width="1.5"/>
<linearGradient id="gef" gradientUnits="userSpaceOnUse" x1="208.5" y1="0" x2="346.3" y2="0"><stop offset="0.0000" stop-color="#000"/><stop offset="0.2429" stop-color="#000"/><stop offset="0.3143" stop-color="#241036"/><stop offset="0.6000" stop-color="#241036"/><stop offset="0.7857" stop-color="#1a1a1a"/><stop offset="1.0000" stop-color="#1a1a1a"/></linearGradient>
<path id="pefk0" d="M208.50 374.45 L208.59 374.26 208.88 374.04 211.47 372.66 213.42 371.42 215.18 370.08 216.82 368.63 218.28 367.08 219.32 365.67 219.92 364.42 220.12 363.26 M226.88 363.26 L226.94 363.95 227.10 364.64 227.79 366.23 228.99 368.23 232.27 373.11 232.69 373.91 232.81 374.45 M233.89 374.45 L234.04 373.84 234.55 372.91 239.16 365.91 240.81 363.26 M240.91 363.26 L246.50 372.46" stroke="url(#gef)" stroke-width="0.80"/>
<use href="#pefk0" transform="translate(0 67.140)"/>
<use href="#pefk0" transform="matrix(1 0 0 -1 0 816.040)"/>
<use href="#pefk0" transform="translate(0 44.760)"/>
<use href="#pefk0" transform="matrix(1 0 0 -1 0 793.660)"/>
<use href="#pefk0" transform="translate(0 22.380)"/>
<use href="#pefk0" transform="matrix(1 0 0 -1 0 771.280)"/>
<use href="#pefk0" transform="matrix(1 0 0 -1 0 748.900)"/>
<use href="#pefk0" transform="translate(0 -22.380)"/>
<use href="#pefk0" transform="matrix(1 0 0 -1 0 726.520)"/>
<use href="#pefk0" transform="translate(0 -44.760)"/>
<use href="#pefk0" transform="matrix(1 0 0 -1 0 704.140)"/>
<path id="pefk1" d="M245.31 370.46 L247.66 374.45 M247.66 374.45 L253.95 363.26 259.85 374.45 265.43 363.26 270.75 374.44 272.09 371.57" stroke="url(#gef)" stroke-width="1.04"/>
<use href="#pefk1" transform="translate(0 67.140)"/>
<use href="#pefk1" transform="matrix(1 0 0 -1 0 816.040)"/>
<use href="#pefk1" transform="translate(0 44.760)"/>
<use href="#pefk1" transform="matrix(1 0 0 -1 0 793.660)"/>
<use href="#pefk1" transform="translate(0 22.380)"/>
<use href="#pefk1" transform="matrix(1 0 0 -1 0 771.280)"/>
<use href="#pefk1" transform="matrix(1 0 0 -1 0 748.900)"/>
<use href="#pefk1" transform="translate(0 -22.380)"/>
<use href="#pefk1" transform="matrix(1 0 0 -1 0 726.520)"/>
<use href="#pefk1" transform="translate(0 -44.760)"/>
<use href="#pefk1" transform="matrix(1 0 0 -1 0 704.140)"/>
<path id="pefk2" d="M270.90 374.14 L275.87 363.26 280.80 374.44 285.57 363.26 290.20 374.45 291.78 370.58" stroke="url(#gef)" stroke-width="0.96"/>
<use href="#pefk2" transform="translate(0 67.140)"/>
<use href="#pefk2" transform="matrix(1 0 0 -1 0 816.040)"/>
<use href="#pefk2" transform="translate(0 44.760)"/>
<use href="#pefk2" transform="matrix(1 0 0 -1 0 793.660)"/>
<use href="#pefk2" transform="translate(0 22.380)"/>
<use href="#pefk2" transform="matrix(1 0 0 -1 0 771.280)"/>
<use href="#pefk2" transform="matrix(1 0 0 -1 0 748.900)"/>
<use href="#pefk2" transform="translate(0 -22.380)"/>
<use href="#pefk2" transform="matrix(1 0 0 -1 0 726.520)"/>
<use href="#pefk2" transform="translate(0 -44.760)"/>
<use href="#pefk2" transform="matrix(1 0 0 -1 0 704.140)"/>
<path id="pefk3" d="M290.58 373.51 L294.71 363.27 299.11 374.45 303.40 363.27 307.61 374.45 311.46 363.98" stroke="url(#gef)" stroke-width="0.88"/>
<use href="#pefk3" transform="translate(0 67.140)"/>
<use href="#pefk3" transform="matrix(1 0 0 -1 0 816.040)"/>
<use href="#pefk3" transform="translate(0 44.760)"/>
<use href="#pefk3" transform="matrix(1 0 0 -1 0 793.660)"/>
<use href="#pefk3" transform="translate(0 22.380)"/>
<use href="#pefk3" transform="matrix(1 0 0 -1 0 771.280)"/>
<use href="#pefk3" transform="matrix(1 0 0 -1 0 748.900)"/>
<use href="#pefk3" transform="translate(0 -22.380)"/>
<use href="#pefk3" transform="matrix(1 0 0 -1 0 726.520)"/>
<use href="#pefk3" transform="translate(0 -44.760)"/>
<use href="#pefk3" transform="matrix(1 0 0 -1 0 704.140)"/>
<path id="pefk4" d="M310.27 367.24 L311.73 363.26 315.77 374.45 319.74 363.27 323.64 374.44 327.48 363.27 331.26 374.45 334.99 363.26 338.66 374.45 342.29 363.27 345.86 374.44 346.30 373.08" stroke="url(#gef)" stroke-width="0.80"/>
<use href="#pefk4" transform="translate(0 67.140)"/>
<use href="#pefk4" transform="matrix(1 0 0 -1 0 816.040)"/>
<use href="#pefk4" transform="translate(0 44.760)"/>
<use href="#pefk4" transform="matrix(1 0 0 -1 0 793.660)"/>
<use href="#pefk4" transform="translate(0 22.380)"/>
<use href="#pefk4" transform="matrix(1 0 0 -1 0 771.280)"/>
<use href="#pefk4" transform="matrix(1 0 0 -1 0 748.900)"/>
<use href="#pefk4" transform="translate(0 -22.380)"/>
<use href="#pefk4" transform="matrix(1 0 0 -1 0 726.520)"/>
<use href="#pefk4" transform="translate(0 -44.760)"/>
<use href="#pefk4" transform="matrix(1 0 0 -1 0 704.140)"/>
<path d="M220.12 430.40H226.88M220.12 408.02H226.88M220.12 385.64H226.88M220.12 363.26H226.88M220.12 340.88H226.88M220.12 318.50H226.88M232.81 419.21H233.89M232.81 396.83H233.89M232.81 374.45H233.89M232.81 352.07H233.89M232.81 329.69H233.89" stroke="#8e8e8e" stroke-opacity="1" stroke-width="1.5"/>
</g>
<rect x="30.5" y="12.5" width="137.80" height="111.90" fill="none" stroke="#858585" stroke-width="1.1"/>
<path d="M50.19 124.4v-1.4M50.19 12.5v1.4M69.87 124.4v-1.4M69.87 12.5v1.4M89.56 124.4v-1.4M89.56 12.5v1.4M109.24 124.4v-1.4M109.24 12.5v1.4M128.93 124.4v-1.4M128.93 12.5v1.4M148.61 124.4v-1.4M148.61 12.5v1.4M30.5 31.15h1.4M168.3 31.15h-1.4M30.5 49.80h1.4M168.3 49.80h-1.4M30.5 68.45h1.4M168.3 68.45h-1.4M30.5 87.10h1.4M168.3 87.10h-1.4M30.5 105.75h1.4M168.3 105.75h-1.4" stroke="#858585" stroke-width="0.8" fill="none"/>
<g font-size="7.5" fill="#222"><text x="30.50" y="133.00" text-anchor="middle">0</text><text x="50.19" y="133.00" text-anchor="middle">10</text><text x="69.87" y="133.00" text-anchor="middle">20</text><text x="89.56" y="133.00" text-anchor="middle">30</text><text x="109.24" y="133.00" text-anchor="middle">40</text><text x="128.93" y="133.00" text-anchor="middle">50</text><text x="148.61" y="133.00" text-anchor="middle">60</text><text x="168.30" y="133.00" text-anchor="middle">70</text><text x="28.10" y="14.70" text-anchor="end">1.5</text><text x="28.10" y="33.35" text-anchor="end">1.0</text><text x="28.10" y="52.00" text-anchor="end">0.5</text><text x="28.10" y="70.65" text-anchor="end">0</text><text x="28.10" y="89.30" text-anchor="end">−0.5</text><text x="28.10" y="107.95" text-anchor="end">−1.0</text><text x="28.10" y="126.60" text-anchor="end">−1.5</text></g>
<text x="99.40" y="143.20" font-size="9" font-style="italic" text-anchor="middle" fill="#222">k</text>
<text transform="translate(8.50 69.15) rotate(-90)" text-anchor="middle" fill="#222" font-style="italic"><tspan font-size="10.2">α</tspan><tspan font-size="7.2" dy="1.2">real</tspan></text>
<rect x="208.5" y="12.5" width="137.80" height="111.90" fill="none" stroke="#858585" stroke-width="1.1"/>
<path d="M228.19 124.4v-1.4M228.19 12.5v1.4M247.87 124.4v-1.4M247.87 12.5v1.4M267.56 124.4v-1.4M267.56 12.5v1.4M287.24 124.4v-1.4M287.24 12.5v1.4M306.93 124.4v-1.4M306.93 12.5v1.4M326.61 124.4v-1.4M326.61 12.5v1.4M208.5 23.69h1.4M346.3 23.69h-1.4M208.5 34.88h1.4M346.3 34.88h-1.4M208.5 46.07h1.4M346.3 46.07h-1.4M208.5 57.26h1.4M346.3 57.26h-1.4M208.5 68.45h1.4M346.3 68.45h-1.4M208.5 79.64h1.4M346.3 79.64h-1.4M208.5 90.83h1.4M346.3 90.83h-1.4M208.5 102.02h1.4M346.3 102.02h-1.4M208.5 113.21h1.4M346.3 113.21h-1.4" stroke="#858585" stroke-width="0.8" fill="none"/>
<g font-size="7.5" fill="#222"><text x="208.50" y="133.00" text-anchor="middle">0</text><text x="228.19" y="133.00" text-anchor="middle">10</text><text x="247.87" y="133.00" text-anchor="middle">20</text><text x="267.56" y="133.00" text-anchor="middle">30</text><text x="287.24" y="133.00" text-anchor="middle">40</text><text x="306.93" y="133.00" text-anchor="middle">50</text><text x="326.61" y="133.00" text-anchor="middle">60</text><text x="346.30" y="133.00" text-anchor="middle">70</text><text x="206.10" y="14.70" text-anchor="end">5</text><text x="206.10" y="25.89" text-anchor="end">4</text><text x="206.10" y="37.08" text-anchor="end">3</text><text x="206.10" y="48.27" text-anchor="end">2</text><text x="206.10" y="59.46" text-anchor="end">1</text><text x="206.10" y="70.65" text-anchor="end">0</text><text x="206.10" y="81.84" text-anchor="end">−1</text><text x="206.10" y="93.03" text-anchor="end">−2</text><text x="206.10" y="104.22" text-anchor="end">−3</text><text x="206.10" y="115.41" text-anchor="end">−4</text><text x="206.10" y="126.60" text-anchor="end">−5</text></g>
<text x="277.40" y="143.20" font-size="9" font-style="italic" text-anchor="middle" fill="#222">k</text>
<text transform="translate(191.60 68.35) rotate(-90)" text-anchor="middle" fill="#222" font-style="italic"><tspan font-size="10.2">α</tspan><tspan font-size="7.2" dy="1.2">imag</tspan></text>
<rect x="30.5" y="166.5" width="137.80" height="111.90" fill="none" stroke="#858585" stroke-width="1.1"/>
<path d="M50.19 278.4v-1.4M50.19 166.5v1.4M69.87 278.4v-1.4M69.87 166.5v1.4M89.56 278.4v-1.4M89.56 166.5v1.4M109.24 278.4v-1.4M109.24 166.5v1.4M128.93 278.4v-1.4M128.93 166.5v1.4M148.61 278.4v-1.4M148.61 166.5v1.4M30.5 185.15h1.4M168.3 185.15h-1.4M30.5 203.80h1.4M168.3 203.80h-1.4M30.5 222.45h1.4M168.3 222.45h-1.4M30.5 241.10h1.4M168.3 241.10h-1.4M30.5 259.75h1.4M168.3 259.75h-1.4" stroke="#858585" stroke-width="0.8" fill="none"/>
<g font-size="7.5" fill="#222"><text x="30.50" y="287.00" text-anchor="middle">0</text><text x="50.19" y="287.00" text-anchor="middle">10</text><text x="69.87" y="287.00" text-anchor="middle">20</text><text x="89.56" y="287.00" text-anchor="middle">30</text><text x="109.24" y="287.00" text-anchor="middle">40</text><text x="128.93" y="287.00" text-anchor="middle">50</text><text x="148.61" y="287.00" text-anchor="middle">60</text><text x="168.30" y="287.00" text-anchor="middle">70</text><text x="28.10" y="168.70" text-anchor="end">1.5</text><text x="28.10" y="187.35" text-anchor="end">1.0</text><text x="28.10" y="206.00" text-anchor="end">0.5</text><text x="28.10" y="224.65" text-anchor="end">0</text><text x="28.10" y="243.30" text-anchor="end">−0.5</text><text x="28.10" y="261.95" text-anchor="end">−1.0</text><text x="28.10" y="280.60" text-anchor="end">−1.5</text></g>
<text x="99.40" y="297.20" font-size="9" font-style="italic" text-anchor="middle" fill="#222">k</text>
<text transform="translate(8.50 223.15) rotate(-90)" text-anchor="middle" fill="#222" font-style="italic"><tspan font-size="10.2">α</tspan><tspan font-size="7.2" dy="1.2">real</tspan></text>
<rect x="208.5" y="166.5" width="137.80" height="111.90" fill="none" stroke="#858585" stroke-width="1.1"/>
<path d="M228.19 278.4v-1.4M228.19 166.5v1.4M247.87 278.4v-1.4M247.87 166.5v1.4M267.56 278.4v-1.4M267.56 166.5v1.4M287.24 278.4v-1.4M287.24 166.5v1.4M306.93 278.4v-1.4M306.93 166.5v1.4M326.61 278.4v-1.4M326.61 166.5v1.4M208.5 177.69h1.4M346.3 177.69h-1.4M208.5 188.88h1.4M346.3 188.88h-1.4M208.5 200.07h1.4M346.3 200.07h-1.4M208.5 211.26h1.4M346.3 211.26h-1.4M208.5 222.45h1.4M346.3 222.45h-1.4M208.5 233.64h1.4M346.3 233.64h-1.4M208.5 244.83h1.4M346.3 244.83h-1.4M208.5 256.02h1.4M346.3 256.02h-1.4M208.5 267.21h1.4M346.3 267.21h-1.4" stroke="#858585" stroke-width="0.8" fill="none"/>
<g font-size="7.5" fill="#222"><text x="208.50" y="287.00" text-anchor="middle">0</text><text x="228.19" y="287.00" text-anchor="middle">10</text><text x="247.87" y="287.00" text-anchor="middle">20</text><text x="267.56" y="287.00" text-anchor="middle">30</text><text x="287.24" y="287.00" text-anchor="middle">40</text><text x="306.93" y="287.00" text-anchor="middle">50</text><text x="326.61" y="287.00" text-anchor="middle">60</text><text x="346.30" y="287.00" text-anchor="middle">70</text><text x="206.10" y="168.70" text-anchor="end">5</text><text x="206.10" y="179.89" text-anchor="end">4</text><text x="206.10" y="191.08" text-anchor="end">3</text><text x="206.10" y="202.27" text-anchor="end">2</text><text x="206.10" y="213.46" text-anchor="end">1</text><text x="206.10" y="224.65" text-anchor="end">0</text><text x="206.10" y="235.84" text-anchor="end">−1</text><text x="206.10" y="247.03" text-anchor="end">−2</text><text x="206.10" y="258.22" text-anchor="end">−3</text><text x="206.10" y="269.41" text-anchor="end">−4</text><text x="206.10" y="280.60" text-anchor="end">−5</text></g>
<text x="277.40" y="297.20" font-size="9" font-style="italic" text-anchor="middle" fill="#222">k</text>
<text transform="translate(191.60 222.35) rotate(-90)" text-anchor="middle" fill="#222" font-style="italic"><tspan font-size="10.2">α</tspan><tspan font-size="7.2" dy="1.2">imag</tspan></text>
<rect x="30.5" y="318.5" width="137.80" height="111.90" fill="none" stroke="#858585" stroke-width="1.1"/>
<path d="M50.19 430.4v-1.4M50.19 318.5v1.4M69.87 430.4v-1.4M69.87 318.5v1.4M89.56 430.4v-1.4M89.56 318.5v1.4M109.24 430.4v-1.4M109.24 318.5v1.4M128.93 430.4v-1.4M128.93 318.5v1.4M148.61 430.4v-1.4M148.61 318.5v1.4M30.5 337.15h1.4M168.3 337.15h-1.4M30.5 355.80h1.4M168.3 355.80h-1.4M30.5 374.45h1.4M168.3 374.45h-1.4M30.5 393.10h1.4M168.3 393.10h-1.4M30.5 411.75h1.4M168.3 411.75h-1.4" stroke="#858585" stroke-width="0.8" fill="none"/>
<g font-size="7.5" fill="#222"><text x="30.50" y="439.00" text-anchor="middle">0</text><text x="50.19" y="439.00" text-anchor="middle">10</text><text x="69.87" y="439.00" text-anchor="middle">20</text><text x="89.56" y="439.00" text-anchor="middle">30</text><text x="109.24" y="439.00" text-anchor="middle">40</text><text x="128.93" y="439.00" text-anchor="middle">50</text><text x="148.61" y="439.00" text-anchor="middle">60</text><text x="168.30" y="439.00" text-anchor="middle">70</text><text x="28.10" y="320.70" text-anchor="end">1.5</text><text x="28.10" y="339.35" text-anchor="end">1.0</text><text x="28.10" y="358.00" text-anchor="end">0.5</text><text x="28.10" y="376.65" text-anchor="end">0</text><text x="28.10" y="395.30" text-anchor="end">−0.5</text><text x="28.10" y="413.95" text-anchor="end">−1.0</text><text x="28.10" y="432.60" text-anchor="end">−1.5</text></g>
<text x="99.40" y="449.20" font-size="9" font-style="italic" text-anchor="middle" fill="#222">k</text>
<text transform="translate(8.50 375.15) rotate(-90)" text-anchor="middle" fill="#222" font-style="italic"><tspan font-size="10.2">α</tspan><tspan font-size="7.2" dy="1.2">real</tspan></text>
<rect x="208.5" y="318.5" width="137.80" height="111.90" fill="none" stroke="#858585" stroke-width="1.1"/>
<path d="M228.19 430.4v-1.4M228.19 318.5v1.4M247.87 430.4v-1.4M247.87 318.5v1.4M267.56 430.4v-1.4M267.56 318.5v1.4M287.24 430.4v-1.4M287.24 318.5v1.4M306.93 430.4v-1.4M306.93 318.5v1.4M326.61 430.4v-1.4M326.61 318.5v1.4M208.5 329.69h1.4M346.3 329.69h-1.4M208.5 340.88h1.4M346.3 340.88h-1.4M208.5 352.07h1.4M346.3 352.07h-1.4M208.5 363.26h1.4M346.3 363.26h-1.4M208.5 374.45h1.4M346.3 374.45h-1.4M208.5 385.64h1.4M346.3 385.64h-1.4M208.5 396.83h1.4M346.3 396.83h-1.4M208.5 408.02h1.4M346.3 408.02h-1.4M208.5 419.21h1.4M346.3 419.21h-1.4" stroke="#858585" stroke-width="0.8" fill="none"/>
<g font-size="7.5" fill="#222"><text x="208.50" y="439.00" text-anchor="middle">0</text><text x="228.19" y="439.00" text-anchor="middle">10</text><text x="247.87" y="439.00" text-anchor="middle">20</text><text x="267.56" y="439.00" text-anchor="middle">30</text><text x="287.24" y="439.00" text-anchor="middle">40</text><text x="306.93" y="439.00" text-anchor="middle">50</text><text x="326.61" y="439.00" text-anchor="middle">60</text><text x="346.30" y="439.00" text-anchor="middle">70</text><text x="206.10" y="320.70" text-anchor="end">5</text><text x="206.10" y="331.89" text-anchor="end">4</text><text x="206.10" y="343.08" text-anchor="end">3</text><text x="206.10" y="354.27" text-anchor="end">2</text><text x="206.10" y="365.46" text-anchor="end">1</text><text x="206.10" y="376.65" text-anchor="end">0</text><text x="206.10" y="387.84" text-anchor="end">−1</text><text x="206.10" y="399.03" text-anchor="end">−2</text><text x="206.10" y="410.22" text-anchor="end">−3</text><text x="206.10" y="421.41" text-anchor="end">−4</text><text x="206.10" y="432.60" text-anchor="end">−5</text></g>
<text x="277.40" y="449.20" font-size="9" font-style="italic" text-anchor="middle" fill="#222">k</text>
<text transform="translate(191.60 374.35) rotate(-90)" text-anchor="middle" fill="#222" font-style="italic"><tspan font-size="10.2">α</tspan><tspan font-size="7.2" dy="1.2">imag</tspan></text>
<text x="1.4" y="8.3" font-size="8.5" fill="#222">(<tspan font-style="italic">a</tspan>)</text>
<text x="184.5" y="7.1000000000000005" font-size="8.5" fill="#222">(<tspan font-style="italic">b</tspan>)</text>
<text x="1.4" y="162.3" font-size="8.5" fill="#222">(<tspan font-style="italic">c</tspan>)</text>
<text x="184.5" y="161.10000000000002" font-size="8.5" fill="#222">(<tspan font-style="italic">d</tspan>)</text>
<text x="1.4" y="314.3" font-size="8.5" fill="#222">(<tspan font-style="italic">e</tspan>)</text>
<text x="184.5" y="313.1" font-size="8.5" fill="#222">(<tspan font-style="italic" dx="1.3">f</tspan><tspan dx="1.6">)</tspan></text>
</svg>
</body></html>
